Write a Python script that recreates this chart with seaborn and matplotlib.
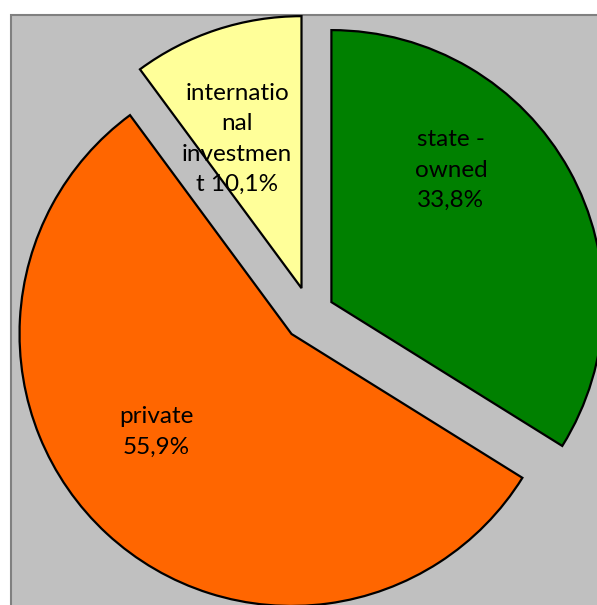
import matplotlib
matplotlib.use("Agg")
import matplotlib.pyplot as plt
import seaborn as sns
from matplotlib.patches import Rectangle

# Ownership structure shares (%)
categories = ["state -\nowned", "private", "internatio\nnal\ninvestmen\nt"]
shares = [33.8, 55.9, 10.1]
colors = ["#008000", "#FF6600", "#FFFF99"]
explode = [0.09, 0.1, 0.1]

sns.set_theme(style="white")
plt.rcParams["font.family"] = ["Lato", "DejaVu Sans"]

W, H = 597, 605
fig = plt.figure(figsize=(W / 100, H / 100), dpi=100)
fig.patch.set_facecolor("white")

ax = fig.add_axes([0, 0, 1, 1])
ax.set_facecolor("none")

# grey plot area with a thin darker frame (open to the right and bottom)
ax.add_patch(Rectangle((11 / W, -0.05), 1.0, 1.05 - 15 / H, transform=fig.transFigure,
                       facecolor="#C0C0C0", edgecolor="#808080", linewidth=1.5,
                       zorder=-5, clip_on=False))

wedges, _ = ax.pie(shares, colors=colors, startangle=90, counterclock=False,
                   explode=explode, radius=1.0,
                   wedgeprops=dict(edgecolor="black", linewidth=1.6))

R = 272.0   # pie radius in pixels
cx, cy = 310.0, 314.0
ax.set_xlim(-cx / R, (W - cx) / R)
ax.set_ylim(-(H - cy) / R, cy / R)
ax.set_aspect("equal")
ax.axis("off")

def pct(v):
    return f"{v:.1f}".replace(".", ",") + "%"

label_text = [
    f"{categories[0]}\n{pct(shares[0])}",
    f"{categories[1]}\n{pct(shares[1])}",
    f"{categories[2]} {pct(shares[2])}",
]
label_pos = [(0.518, 0.529), (-0.566, -0.434), (-0.268, 0.643)]
for txt, (x, y) in zip(label_text, label_pos):
    ax.text(x, y, txt, ha="center", va="center", fontsize=17.5,
            color="black", linespacing=1.55)

fig.savefig("out.png", dpi=100)
